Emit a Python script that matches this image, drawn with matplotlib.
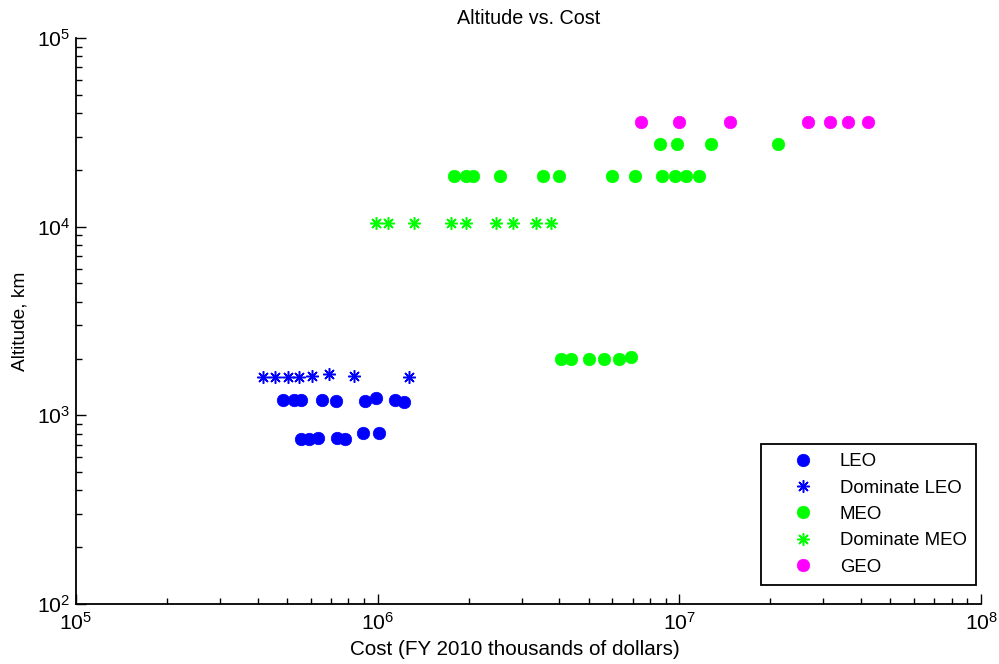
import matplotlib
matplotlib.use("Agg")
import matplotlib.pyplot as plt

plt.rcParams['font.family'] = ['Liberation Sans', 'DejaVu Sans']
plt.rcParams['mathtext.fontset'] = 'custom'
plt.rcParams['mathtext.rm'] = 'Liberation Sans'
plt.rcParams['mathtext.it'] = 'Liberation Sans:italic'
plt.rcParams['mathtext.bf'] = 'Liberation Sans:bold'
plt.rcParams['mathtext.default'] = 'regular'

# Cost in FY2010 thousands of dollars, altitude in km
leo_cost = [487e3, 526e3, 555e3, 656e3, 725e3, 905e3, 985e3, 1.14e6, 1.22e6,
            555e3, 590e3, 632e3, 731e3, 777e3, 891e3, 1.007e6]
leo_alt = [1200, 1200, 1200, 1200, 1190, 1190, 1240, 1200, 1170,
           750, 750, 755, 755, 745, 805, 805]

dom_leo_cost = [418e3, 455e3, 506e3, 547e3, 604e3, 687e3, 832e3, 1.27e6]
dom_leo_alt = [1600, 1600, 1600, 1600, 1620, 1650, 1610, 1590]

meo_cost = [1.79e6, 1.96e6, 2.07e6, 2.54e6, 3.53e6, 3.99e6, 5.98e6, 7.14e6,
            8.78e6, 9.70e6, 10.5e6, 11.6e6,
            8.59e6, 9.85e6, 12.7e6, 21.2e6,
            4.06e6, 4.38e6, 5.02e6, 5.63e6, 6.32e6, 6.93e6]
meo_alt = [18500] * 12 + [27400] * 4 + [2000, 2000, 2000, 2000, 2000, 2040]

dom_meo_cost = [0.985e6, 1.08e6, 1.32e6, 1.75e6, 1.96e6, 2.47e6, 2.81e6,
                3.35e6, 3.76e6]
dom_meo_alt = [10500] * 9

geo_cost = [7.48e6, 10.0e6, 14.7e6, 26.6e6, 31.5e6, 36.1e6, 42.2e6]
geo_alt = [35786] * 7

fig = plt.figure(figsize=(9.99, 6.64), dpi=100)
ax = fig.add_axes([0.0761, 0.0904, 0.906, 0.8524])

blue, green, magenta = (0, 0, 1), (0, 1, 0), (1, 0, 1)
asterisk = (8, 2, 0)

ax.plot(leo_cost, leo_alt, 'o', color=blue, ms=9, mec=blue, mew=0.5,
        label='LEO')
ax.plot(dom_leo_cost, dom_leo_alt, ls='none', marker=asterisk, color=blue,
        ms=9, mew=1.1, label='Dominate LEO')
ax.plot(meo_cost, meo_alt, 'o', color=green, ms=9, mec=green, mew=0.5,
        label='MEO')
ax.plot(dom_meo_cost, dom_meo_alt, ls='none', marker=asterisk, color=green,
        ms=9, mew=1.1, label='Dominate MEO')
ax.plot(geo_cost, geo_alt, 'o', color=magenta, ms=9, mec=magenta, mew=0.5,
        label='GEO')

ax.set_xscale('log')
ax.set_yscale('log')
ax.set_xlim(1e5, 1e8)
ax.set_ylim(1e2, 1e5)

for side in ('top', 'right'):
    ax.spines[side].set_visible(False)
for side in ('left', 'bottom'):
    ax.spines[side].set_linewidth(1.3)

ax.tick_params(which='both', direction='in', top=False, right=False,
               width=1.0, labelsize=15.2)
ax.tick_params(which='major', length=7)
ax.tick_params(axis='y', which='major', pad=4)
ax.tick_params(axis='x', which='major', pad=6)
ax.tick_params(which='minor', length=4)

ax.set_title('Altitude vs. Cost', fontsize=14.2, pad=10)
ax.set_xlabel('Cost (FY 2010 thousands of dollars)', fontsize=14.9,
              labelpad=4)
ax.xaxis.label.set_x(0.485)
ax.set_ylabel('Altitude, km', fontsize=13.8, labelpad=6)

leg = ax.legend(loc='lower right', bbox_to_anchor=(0.9945, 0.0336),
                fontsize=13.4, frameon=True, fancybox=False, framealpha=1,
                edgecolor='black', handlelength=3.5, handletextpad=0.25,
                borderpad=0.5, labelspacing=0.5, borderaxespad=0,
                numpoints=1)
leg.get_frame().set_linewidth(1.3)

fig.savefig('out.png', dpi=100)
